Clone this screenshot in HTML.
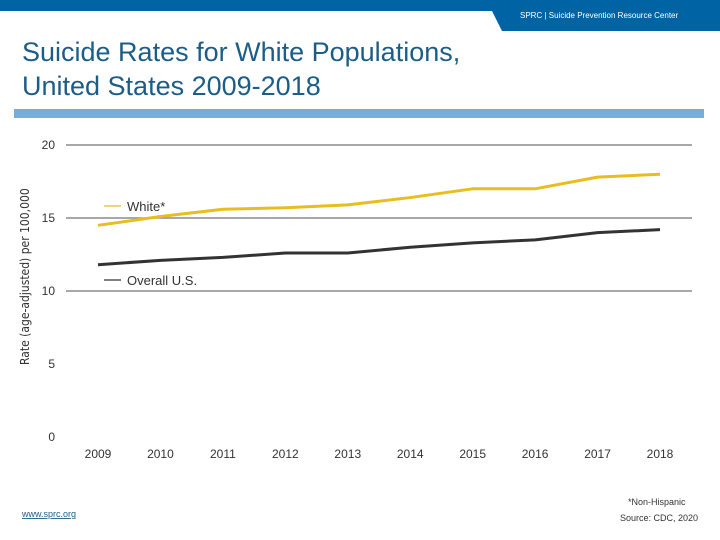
<!DOCTYPE html>
<html><head><meta charset="utf-8"><style>
body{margin:0;width:720px;height:540px;background:#fff;position:relative;overflow:hidden;font-family:"Liberation Sans",sans-serif}
.t{position:absolute}
</style></head><body>
<svg class="t" style="left:0;top:0" width="720" height="540">
<rect x="0" y="0" width="720" height="11" fill="#0063a3"/>
<polygon points="490,0 720,0 720,31 502,31 492,11" fill="#0063a3"/>
<text x="520" y="18" font-size="8" fill="#fff">SPRC  |  Suicide Prevention Resource Center</text>
<text x="22" y="61" font-size="27" fill="#1b5d87">Suicide Rates for White Populations,</text>
<text x="22" y="95" font-size="27" fill="#1b5d87">United States 2009-2018</text>
<rect x="14" y="109" width="690" height="9" fill="#78aed6"/>
<g id="chart"></g>
<text transform="translate(29,365) rotate(-90)" font-size="12" fill="#333" font-family="DejaVu Sans Condensed, Liberation Sans, sans-serif">Rate (age-adjusted) per 100,000</text>
<text x="628" y="505" font-size="9" fill="#333">*Non-Hispanic</text>
<text x="620" y="521" font-size="9" fill="#333">Source: CDC, 2020</text>
<text x="22" y="517" font-size="9" fill="#1b5d87" text-decoration="underline">www.sprc.org</text>
</svg>
<script>
const years=[2009,2010,2011,2012,2013,2014,2015,2016,2017,2018];
const white=[14.5,15.1,15.6,15.7,15.9,16.4,17.0,17.0,17.8,18.0];
const overall=[11.8,12.1,12.3,12.6,12.6,13.0,13.3,13.5,14.0,14.2];
const yTicks=[0,5,10,15,20];
const NS='http://www.w3.org/2000/svg';
const g=document.getElementById('chart');
const x=i=>98+i*(562/(years.length-1));
const y=v=>437-v*14.6;
function mk(t,a){const e=document.createElementNS(NS,t);for(const k in a)e.setAttribute(k,a[k]);g.appendChild(e);return e;}
yTicks.forEach(v=>{
 if(v>=10||v===0){const l=mk('line',{x1:66,x2:692,y1:y(v),y2:y(v),stroke:v===0?'#fff':'#8c8c8c','stroke-width':1.5});
 
 }
 const t=mk('text',{x:55,y:y(v)+4,'font-size':12,fill:'#333','text-anchor':'end'});t.textContent=v;
 
 
});
years.forEach((yr,i)=>{const t=mk('text',{x:x(i),y:458,'font-size':12,fill:'#333','text-anchor':'middle'});t.textContent=yr;
 
 });
function line(d,c,w,n){const p=mk('polyline',{points:d.map((v,i)=>x(i)+','+y(v)).join(' '),fill:'none',stroke:c,'stroke-width':w,'stroke-linejoin':'round'});
 
 }
line(white,'#e8bd1f',3,'line-white');
line(overall,'#333333',3,'line-overall');
function leg(yy,c,txt,n){const l=mk('line',{x1:104,x2:121,y1:yy,y2:yy,stroke:c,'stroke-width':1.2});
 
 
 const t=mk('text',{x:127,y:yy+5,'font-size':13,fill:'#333'});t.textContent=txt;
 
 }
leg(206,'#e8bd1f','White*','legend-white');
leg(280,'#333','Overall U.S.','legend-overall');
</script>
</body></html>
